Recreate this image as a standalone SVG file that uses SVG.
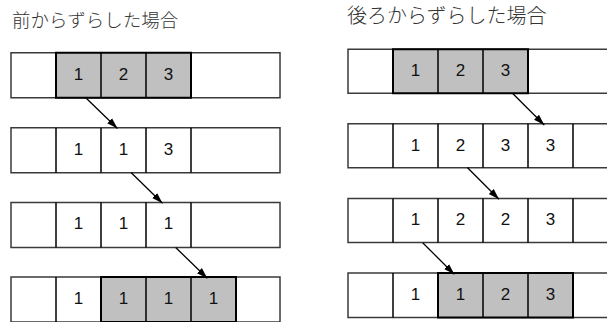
<svg xmlns="http://www.w3.org/2000/svg" width="607" height="322" viewBox="0 0 607 322">
<style>
.t{font-family:"Noto Sans CJK JP","Noto Sans CJK SC",sans-serif;fill:#333;font-weight:300}
.n{font-family:"Liberation Sans",Arial,sans-serif;font-size:17px;fill:#111;text-anchor:middle}
.o{fill:#fff;stroke:#3a3a3a;stroke-width:1.5}
.s{fill:#c0c0c0;stroke:#000;stroke-width:2}
.d{stroke:#000;stroke-width:1.5;fill:none}
.a{stroke:#000;stroke-width:1.3;fill:none;marker-end:url(#ah)}
</style>
<defs>
<marker id="ah" markerUnits="userSpaceOnUse" markerWidth="12" markerHeight="10" refX="11" refY="3.5" orient="auto" viewBox="0 0 12 7">
<path d="M0,0 L11,3.5 L0,7 Z" fill="#000"/>
</marker>
</defs>
<text class="t" x="12" y="26.5" font-size="18.5">前からずらした場合</text>
<text class="t" x="347" y="23" font-size="20">後ろからずらした場合</text>

<g id="L1">
<rect class="o" x="11" y="52.75" width="269" height="45"/>
<rect class="s" x="56" y="52.75" width="135" height="45"/>
<path class="d" d="M101,52.75V97.75M146,52.75V97.75"/>
<text class="n" x="78.5" y="79.5">1</text><text class="n" x="123.5" y="79.5">2</text><text class="n" x="168.5" y="79.5">3</text>
</g>
<g id="L2">
<rect class="o" x="11" y="127.75" width="269" height="45"/>
<path class="d" d="M56,127.75V172.75M101,127.75V172.75M146,127.75V172.75M191,127.75V172.75"/>
<text class="n" x="78.5" y="154.5">1</text><text class="n" x="123.5" y="154.5">1</text><text class="n" x="168.5" y="154.5">3</text>
</g>
<g id="L3">
<rect class="o" x="11" y="202.5" width="269" height="45"/>
<path class="d" d="M56,202.5V247.5M101,202.5V247.5M146,202.5V247.5M191,202.5V247.5"/>
<text class="n" x="78.5" y="229.2">1</text><text class="n" x="123.5" y="229.2">1</text><text class="n" x="168.5" y="229.2">1</text>
</g>
<g id="L4">
<rect class="o" x="11" y="277" width="269" height="45"/>
<rect class="s" x="101" y="277" width="135" height="45"/>
<path class="d" d="M56,277V322M146,277V322M191,277V322"/>
<text class="n" x="78.5" y="303.7">1</text><text class="n" x="123.5" y="303.7">1</text><text class="n" x="168.5" y="303.7">1</text><text class="n" x="213.5" y="303.7">1</text>
</g>

<g id="R1">
<rect class="o" x="348" y="49.25" width="280" height="44"/>
<rect class="s" x="393" y="49.25" width="135" height="44"/>
<path class="d" d="M438,49.25V93.25M483,49.25V93.25"/>
<text class="n" x="415.5" y="76">1</text><text class="n" x="460.5" y="76">2</text><text class="n" x="505.5" y="76">3</text>
</g>
<g id="R2">
<rect class="o" x="348" y="123.75" width="280" height="44"/>
<path class="d" d="M393,123.75V167.75M438,123.75V167.75M483,123.75V167.75M528,123.75V167.75M573,123.75V167.75"/>
<text class="n" x="415.5" y="150.5">1</text><text class="n" x="460.5" y="150.5">2</text><text class="n" x="505.5" y="150.5">3</text><text class="n" x="550.5" y="150.5">3</text>
</g>
<g id="R3">
<rect class="o" x="348" y="198.5" width="280" height="44"/>
<path class="d" d="M393,198.5V242.5M438,198.5V242.5M483,198.5V242.5M528,198.5V242.5M573,198.5V242.5"/>
<text class="n" x="415.5" y="225.2">1</text><text class="n" x="460.5" y="225.2">2</text><text class="n" x="505.5" y="225.2">2</text><text class="n" x="550.5" y="225.2">3</text>
</g>
<g id="R4">
<rect class="o" x="348" y="273" width="280" height="44.5"/>
<rect class="s" x="438" y="273" width="135" height="44.5"/>
<path class="d" d="M393,273V317.5M483,273V317.5M528,273V317.5"/>
<text class="n" x="415.5" y="299.8">1</text><text class="n" x="460.5" y="299.8">1</text><text class="n" x="505.5" y="299.8">2</text><text class="n" x="550.5" y="299.8">3</text>
</g>

<g id="connectors">
<path class="a" d="M86,98 L117.5,128.5"/>
<path class="a" d="M131,172.5 L162.5,203.3"/>
<path class="a" d="M175.7,247.5 L207.3,278.3"/>
<path class="a" d="M512.7,93.5 L544.3,125"/>
<path class="a" d="M467.3,167.5 L499,199.3"/>
<path class="a" d="M422.7,242.7 L454.3,274.3"/>
</g>
</svg>
